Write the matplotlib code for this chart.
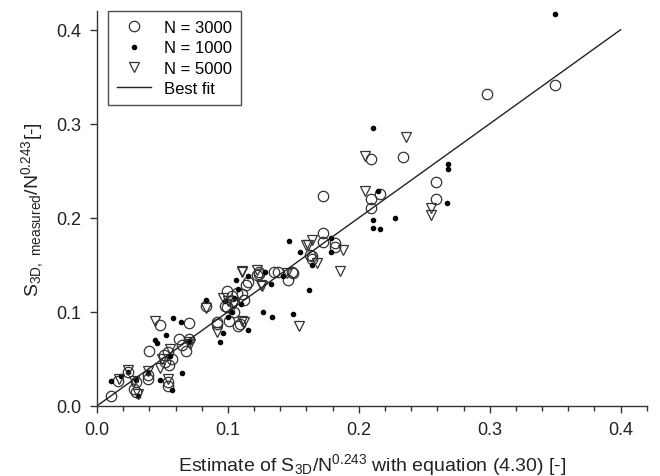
import matplotlib
matplotlib.use("Agg")
import matplotlib.pyplot as plt
from matplotlib.ticker import MultipleLocator

plt.rcParams["font.family"] = ["Liberation Sans", "DejaVu Sans"]
plt.rcParams["mathtext.default"] = "regular"

# N = 3000 (open circles)
x3000 = [0.011, 0.016, 0.024, 0.028, 0.030, 0.039, 0.039, 0.054, 0.054, 0.040,
         0.048, 0.051, 0.054, 0.052, 0.055, 0.057, 0.063, 0.070, 0.065, 0.068,
         0.070, 0.083, 0.092, 0.092, 0.099, 0.103, 0.107, 0.111, 0.114, 0.115,
         0.099, 0.103, 0.098, 0.101, 0.108, 0.109, 0.122, 0.124, 0.124, 0.135,
         0.138, 0.146, 0.149, 0.150, 0.163, 0.164, 0.164, 0.173, 0.173, 0.182,
         0.182, 0.173, 0.209, 0.216, 0.209, 0.209, 0.234, 0.259, 0.259, 0.298,
         0.350, 0.105, 0.112, 0.030]
y3000 = [0.010, 0.026, 0.036, 0.018, 0.015, 0.033, 0.029, 0.025, 0.021, 0.058,
         0.086, 0.054, 0.057, 0.047, 0.043, 0.050, 0.071, 0.071, 0.065, 0.058,
         0.088, 0.106, 0.087, 0.089, 0.122, 0.117, 0.120, 0.119, 0.129, 0.132,
         0.105, 0.111, 0.106, 0.090, 0.085, 0.087, 0.139, 0.142, 0.140, 0.142,
         0.142, 0.134, 0.142, 0.141, 0.160, 0.156, 0.159, 0.184, 0.174, 0.173,
         0.169, 0.223, 0.220, 0.225, 0.210, 0.263, 0.265, 0.238, 0.220, 0.332,
         0.341, 0.100, 0.113, 0.025]

# N = 1000 (small dots)
x1000 = [0.011, 0.018, 0.024, 0.031, 0.039, 0.057, 0.065, 0.044, 0.046, 0.053,
         0.058, 0.064, 0.056, 0.070, 0.083, 0.094, 0.096, 0.115, 0.100, 0.103,
         0.106, 0.115, 0.108, 0.105, 0.127, 0.134, 0.150, 0.128, 0.133, 0.142,
         0.147, 0.155, 0.164, 0.162, 0.179, 0.179, 0.211, 0.215, 0.211, 0.211,
         0.216, 0.228, 0.268, 0.268, 0.267, 0.350, 0.048, 0.030, 0.110, 0.098]
y1000 = [0.026, 0.032, 0.036, 0.011, 0.035, 0.017, 0.035, 0.070, 0.067, 0.075,
         0.093, 0.089, 0.053, 0.069, 0.113, 0.068, 0.078, 0.081, 0.095, 0.100,
         0.134, 0.138, 0.124, 0.115, 0.100, 0.094, 0.098, 0.142, 0.130, 0.138,
         0.175, 0.164, 0.150, 0.123, 0.179, 0.164, 0.295, 0.229, 0.198, 0.189,
         0.188, 0.200, 0.257, 0.252, 0.216, 0.417, 0.028, 0.027, 0.108, 0.112]

# N = 5000 (open down-triangles)
x5000 = [0.017, 0.024, 0.028, 0.031, 0.039, 0.054, 0.044, 0.056, 0.071, 0.050,
         0.083, 0.092, 0.096, 0.112, 0.111, 0.100, 0.111, 0.122, 0.111, 0.125,
         0.126, 0.145, 0.154, 0.161, 0.164, 0.160, 0.168, 0.186, 0.188, 0.205,
         0.236, 0.205, 0.255, 0.255, 0.105, 0.070, 0.048]
y5000 = [0.029, 0.038, 0.026, 0.013, 0.037, 0.029, 0.090, 0.061, 0.066, 0.050,
         0.104, 0.079, 0.115, 0.089, 0.090, 0.112, 0.142, 0.145, 0.143, 0.129,
         0.127, 0.141, 0.085, 0.171, 0.176, 0.171, 0.152, 0.143, 0.166, 0.266,
         0.286, 0.229, 0.210, 0.203, 0.108, 0.068, 0.040]

fit_x = [0.0, 0.4]
fit_y = [0.0, 0.4]

ink = "#333333"

fig = plt.figure(figsize=(6.6, 4.77), dpi=100)
ax = fig.add_axes([0.147, 0.147, 0.833, 0.828])

ax.plot(x3000, y3000, "o", ms=7.5, mfc="none", mec=ink, mew=0.9,
        linestyle="none", label="N = 3000")
ax.plot(x1000, y1000, "o", ms=3.0, mfc="black", mec="black",
        linestyle="none", label="N = 1000")
ax.plot(x5000, y5000, "v", ms=7, mfc="none", mec=ink, mew=0.9,
        linestyle="none", label="N = 5000")
ax.plot(fit_x, fit_y, "-", color="#222222", lw=1.0, label="Best fit")

ax.set_xlim(0, 0.42)
ax.set_ylim(0, 0.42)
ax.xaxis.set_minor_locator(MultipleLocator(0.02))
ax.set_xticks([0.0, 0.1, 0.2, 0.3, 0.4])
ax.set_yticks([0.0, 0.1, 0.2, 0.3, 0.4])
ax.set_xticklabels(["0.0", "0.1", "0.2", "0.3", "0.4"])
ax.set_yticklabels(["0.0", "0.1", "0.2", "0.3", "0.4"])

for s in ["top", "right"]:
    ax.spines[s].set_visible(False)
for s in ["left", "bottom"]:
    ax.spines[s].set_color(ink)
    ax.spines[s].set_linewidth(1.0)

ax.tick_params(which="major", direction="out", length=5, width=1,
               color=ink, labelsize=13, labelcolor="#222222", pad=6)
ax.tick_params(which="minor", direction="out", length=3.5, width=1, color=ink)

ax.set_xlabel("Estimate of S$_{3D}$/N$^{0.243}$ with equation (4.30) [-]",
              fontsize=14, color="#222222", labelpad=9)
ax.set_ylabel("S$_{3D,\\ measured}$/N$^{0.243}$[-]",
              fontsize=14, color="#222222", labelpad=8)

leg = ax.legend(loc="upper left", bbox_to_anchor=(0.02, 1.0), fontsize=12,
                frameon=True, fancybox=False, edgecolor="#222222",
                handlelength=2.0, borderpad=0.55, labelspacing=0.32,
                handletextpad=0.8, borderaxespad=0.0)
leg.get_frame().set_linewidth(1.0)

fig.savefig("out.png", dpi=100)
